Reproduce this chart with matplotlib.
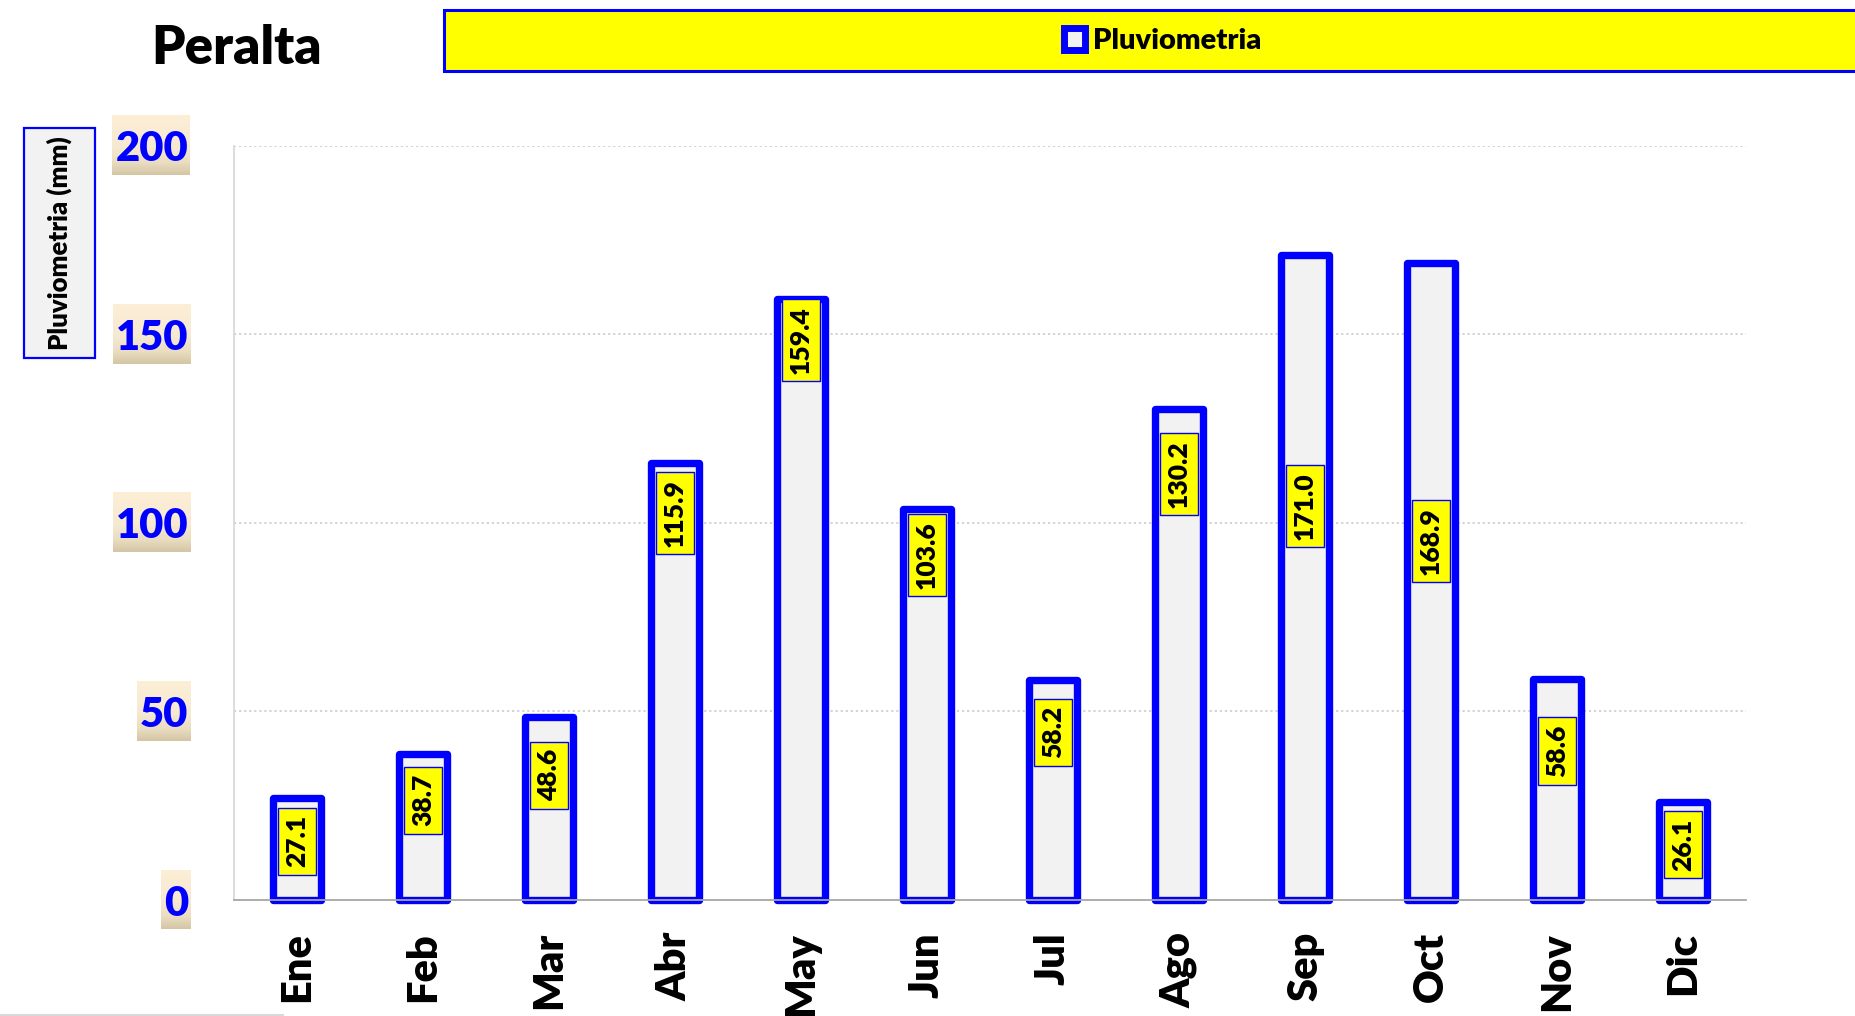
import numpy as np
import matplotlib
matplotlib.use("Agg")
import matplotlib.pyplot as plt
from matplotlib.patches import Rectangle, Patch
from matplotlib.lines import Line2D
from matplotlib.colors import LinearSegmentedColormap

# ---------------- data ----------------
months = ["Ene", "Feb", "Mar", "Abr", "May", "Jun", "Jul", "Ago", "Sep", "Oct", "Nov", "Dic"]
rain = [27.1, 38.7, 48.6, 115.9, 159.4, 103.6, 58.2, 130.2, 171.0, 168.9, 58.6, 26.1]
label_pos = [15.6, 26.5, 33.1, 102.6, 148.4, 91.5, 44.5, 112.9, 104.4, 95.2, 39.5, 14.6]
yticks = [0, 50, 100, 150, 200]
title = "Peralta"
series_name = "Pluviometria"
ylabel = "Pluviometria (mm)"

W, H = 1855, 1016
plt.rcParams['font.family'] = ['Lato', 'DejaVu Sans']
fig = plt.figure(figsize=(W / 100, H / 100), dpi=100)
fig.patch.set_facecolor("white")

ax = fig.add_axes([234 / W, 1 - 900 / H, (1746 - 234) / W, (900 - 145.5) / H])
x = np.arange(len(months))
bars = ax.bar(x, rain, width=0.38, color="#F2F2F2", edgecolor="#0000FF",
              linewidth=5.3, zorder=3, clip_on=False)
for b in bars:
    b.set_joinstyle("round")

for xi, v, ly in zip(x, rain, label_pos):
    ax.text(xi, ly, f"{v:.1f}", rotation=90, ha="center", va="center",
            fontsize=19, fontweight="heavy", color="black", zorder=5,
            bbox=dict(boxstyle="square,pad=0.28", fc="#FFFF00", ec="#0000FF", lw=1.0))

ax.set_xlim(-0.5, len(months) - 0.5)
ax.set_ylim(0, 200)
ax.set_xticks(x)
ax.set_xticklabels(months, rotation=90, fontsize=30, fontweight="heavy")
ax.set_yticks(yticks)
ax.set_yticklabels([str(t) for t in yticks], fontsize=30, fontweight="heavy", color="#0000FF")
ax.tick_params(axis="x", length=0, pad=23)
ax.tick_params(axis="y", length=0, pad=33)

for t in yticks[1:]:
    ax.axhline(t, color="#CFCFCF", lw=1.3, ls=(0, (1.2, 1.6)), zorder=1)
for s in ["top", "right"]:
    ax.spines[s].set_visible(False)
ax.spines["left"].set_color("#D9D9D9")
ax.spines["left"].set_linewidth(1.3)
ax.spines["bottom"].set_color("#A6A6A6")
ax.spines["bottom"].set_linewidth(1.3)
ax.spines["bottom"].set_zorder(4)

# title
fig.text(237 / W, 1 - 49 / H, title, ha="center", va="center",
         fontsize=38, fontweight="heavy", color="black")

# y-label box
fig.add_artist(Rectangle((24 / W, 1 - 358 / H), (95 - 24) / W, (358 - 128) / H,
                         transform=fig.transFigure, fc="#F2F2F2", ec="#0000FF", lw=1.6))
fig.text(59 / W, 1 - 243 / H, ylabel, rotation=90, ha="center", va="center",
         fontsize=18.5, fontweight="heavy", color="black")

# legend box
fig.add_artist(Rectangle((444 / W, 1 - 71 / H), 1.02 - 444 / W, (71 - 9.5) / H,
                         transform=fig.transFigure, fc="#FFFF00", ec="#0000FF", lw=2.2,
                         clip_on=False))
handle = Patch(facecolor="#F2F2F2", edgecolor="#0000FF", linewidth=5)
leg = fig.legend([handle], [series_name], loc="center", bbox_to_anchor=(1163 / W, 1 - 41 / H),
                 frameon=False, prop=dict(size=21, weight="heavy"),
                 handlelength=0.7, handleheight=0.75, handletextpad=0.3,
                 borderpad=0, borderaxespad=0)

# bottom-left faint line
fig.add_artist(Line2D([0, 283 / W], [1 - 1015 / H, 1 - 1015 / H], transform=fig.transFigure,
                      color="#D9D9D9", lw=1.5))

# gradient backgrounds behind y tick labels
fig.canvas.draw()
renderer = fig.canvas.get_renderer()
cmap = LinearSegmentedColormap.from_list(
    "tan", [(0, "#FDEFD6"), (0.55, "#F6E9D2"), (0.8, "#E9DCC0"), (1.0, "#D4C6A4")])
grad = np.linspace(0, 1, 100).reshape(-1, 1)
for lab in ax.get_yticklabels():
    bb = lab.get_window_extent(renderer)
    x0 = bb.x0 - 3
    x1 = bb.x1 + 2
    yc = (bb.y0 + bb.y1) / 2
    h = 60
    gax = fig.add_axes([x0 / W, (yc - h / 2 + 4) / H, (x1 - x0) / W, h / H])
    gax.imshow(grad, aspect="auto", cmap=cmap, extent=[0, 1, 1, 0])
    gax.set_xlim(0, 1)
    gax.set_ylim(1, 0)
    gax.axis("off")
    gax.set_zorder(-1)

fig.savefig("out.png", dpi=100, facecolor="white")
